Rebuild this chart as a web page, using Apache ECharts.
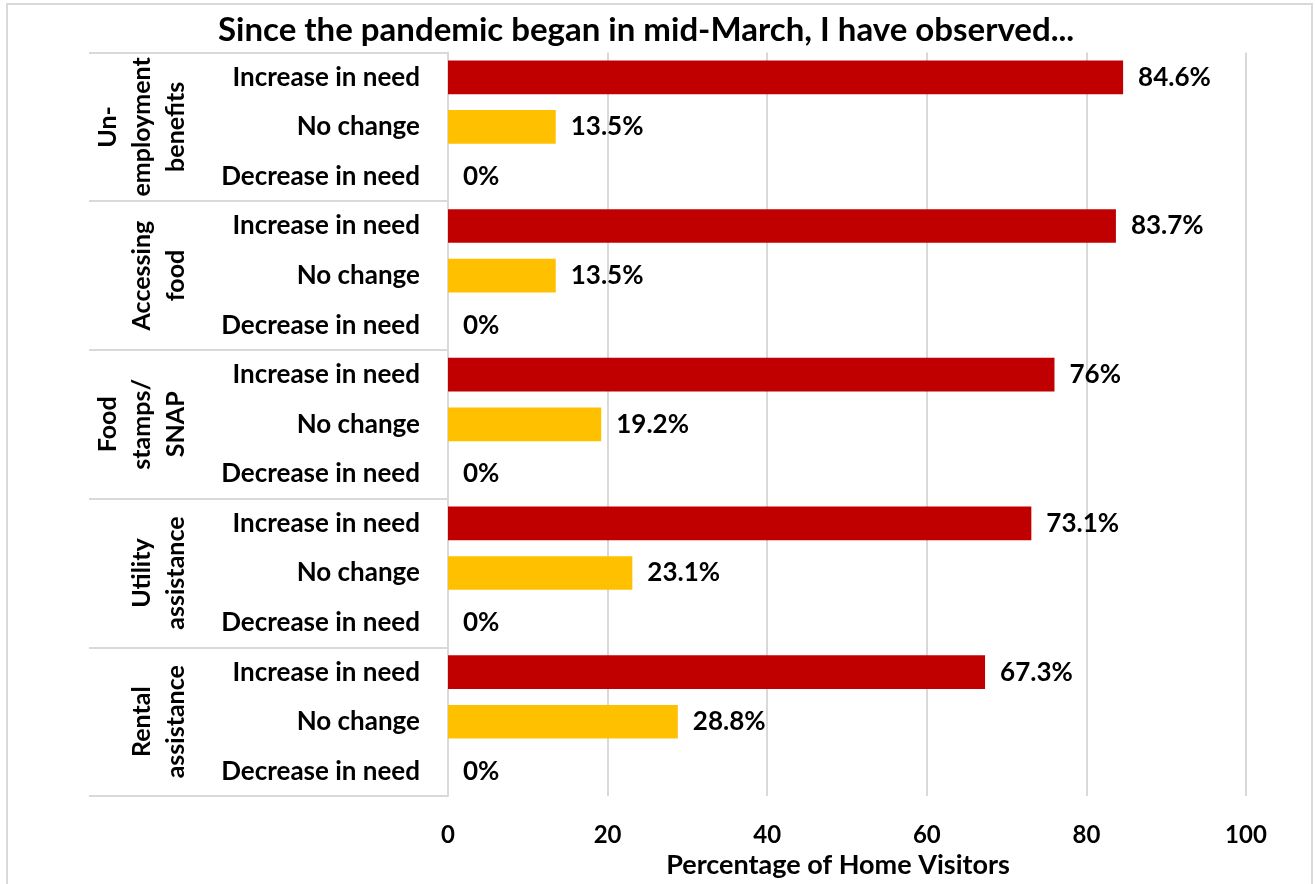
<!DOCTYPE html>
<html>
<head>
<meta charset="utf-8">
<style>
  html, body { margin: 0; padding: 0; background: #fff; }
  #chart { width: 1315px; height: 884px; }
</style>
<script src="https://cdn.jsdelivr.net/npm/echarts@6/dist/echarts.min.js"></script>
</head>
<body>
<div id="chart"></div>
<script>
// Need areas (outer category level)
const groups = [
  'Un-\nemployment\nbenefits',
  'Accessing\nfood',
  'Food\nstamps/\nSNAP',
  'Utility\nassistance',
  'Rental\nassistance'
];
// Responses within each area (inner category level)
const responses = ['Increase in need', 'No change', 'Decrease in need'];
// Percentage of home visitors per response, one value per area
const increaseInNeed = [84.6, 83.7, 76, 73.1, 67.3];
const noChange = [13.5, 13.5, 19.2, 23.1, 28.8];
const decreaseInNeed = [0, 0, 0, 0, 0];
const xTicks = { min: 0, max: 100, interval: 20 };

const responseColors = ['#C00000', '#FFC000', '#A5A5A5'];
const valuesByResponse = [increaseInNeed, noChange, decreaseInNeed];

const FONT = 'Lato';
const WEIGHT = 'bold';
const GRID_COLOR = '#d9d9d9';

// Flatten into one row per (area, response)
const rowLabels = [];
const rowData = [];
groups.forEach((g, gi) => {
  responses.forEach((r, ri) => {
    rowLabels.push(r);
    rowData.push({
      value: valuesByResponse[ri][gi],
      itemStyle: { color: responseColors[ri] }
    });
  });
});

const chart = echarts.init(document.getElementById('chart'), null, { renderer: 'canvas' });

chart.setOption({
  animation: false,
  backgroundColor: '#ffffff',
  textStyle: { fontFamily: FONT },
  title: {
    text: 'Since the pandemic began in mid-March, I have observed...',
    left: 213,
    top: 9,
    textStyle: { fontFamily: FONT, fontWeight: WEIGHT, fontSize: 33, color: '#000' }
  },
  graphic: [{
    type: 'rect',
    silent: true,
    z: -10,
    shape: { x: 7, y: 4, width: 1305, height: 900 },
    style: { fill: 'none', stroke: GRID_COLOR, lineWidth: 2 }
  }],
  grid: { left: 448, right: 69, top: 52.5, bottom: 86 },
  xAxis: {
    type: 'value',
    min: xTicks.min,
    max: xTicks.max,
    interval: xTicks.interval,
    axisLine: { show: false },
    axisTick: { show: false },
    splitLine: { show: true, lineStyle: { color: GRID_COLOR, width: 2 } },
    axisLabel: { fontFamily: FONT, fontWeight: WEIGHT, fontSize: 24, color: '#000', margin: 27 },
    name: 'Percentage of Home Visitors',
    nameLocation: 'middle',
    nameGap: 52,
    nameTextStyle: { fontFamily: FONT, fontWeight: WEIGHT, fontSize: 27, color: '#000', padding: [0, 18, 0, 0] }
  },
  yAxis: [
    {
      type: 'category',
      inverse: true,
      data: rowLabels,
      position: 'left',
      axisLine: { show: true, lineStyle: { color: GRID_COLOR, width: 2 } },
      axisTick: { show: false },
      axisLabel: { interval: 0, fontFamily: FONT, fontWeight: WEIGHT, fontSize: 26, color: '#000', margin: 28 }
    },
    {
      type: 'category',
      inverse: true,
      data: groups,
      position: 'left',
      offset: 0,
      axisLine: { show: false },
      axisTick: { show: true, length: 359, lineStyle: { color: GRID_COLOR, width: 2 } },
      axisLabel: {
        interval: 0, rotate: 90, margin: 255,
        fontFamily: FONT, fontWeight: WEIGHT, fontSize: 25, color: '#000', lineHeight: 34
      }
    }
  ],
  series: [{
    type: 'bar',
    yAxisIndex: 0,
    data: rowData,
    barCategoryGap: '32%',
    label: {
      show: true,
      position: 'right',
      distance: 15,
      formatter: p => p.value + '%',
      fontFamily: FONT, fontWeight: WEIGHT, fontSize: 26, color: '#000'
    }
  }]
});
</script>
</body>
</html>
